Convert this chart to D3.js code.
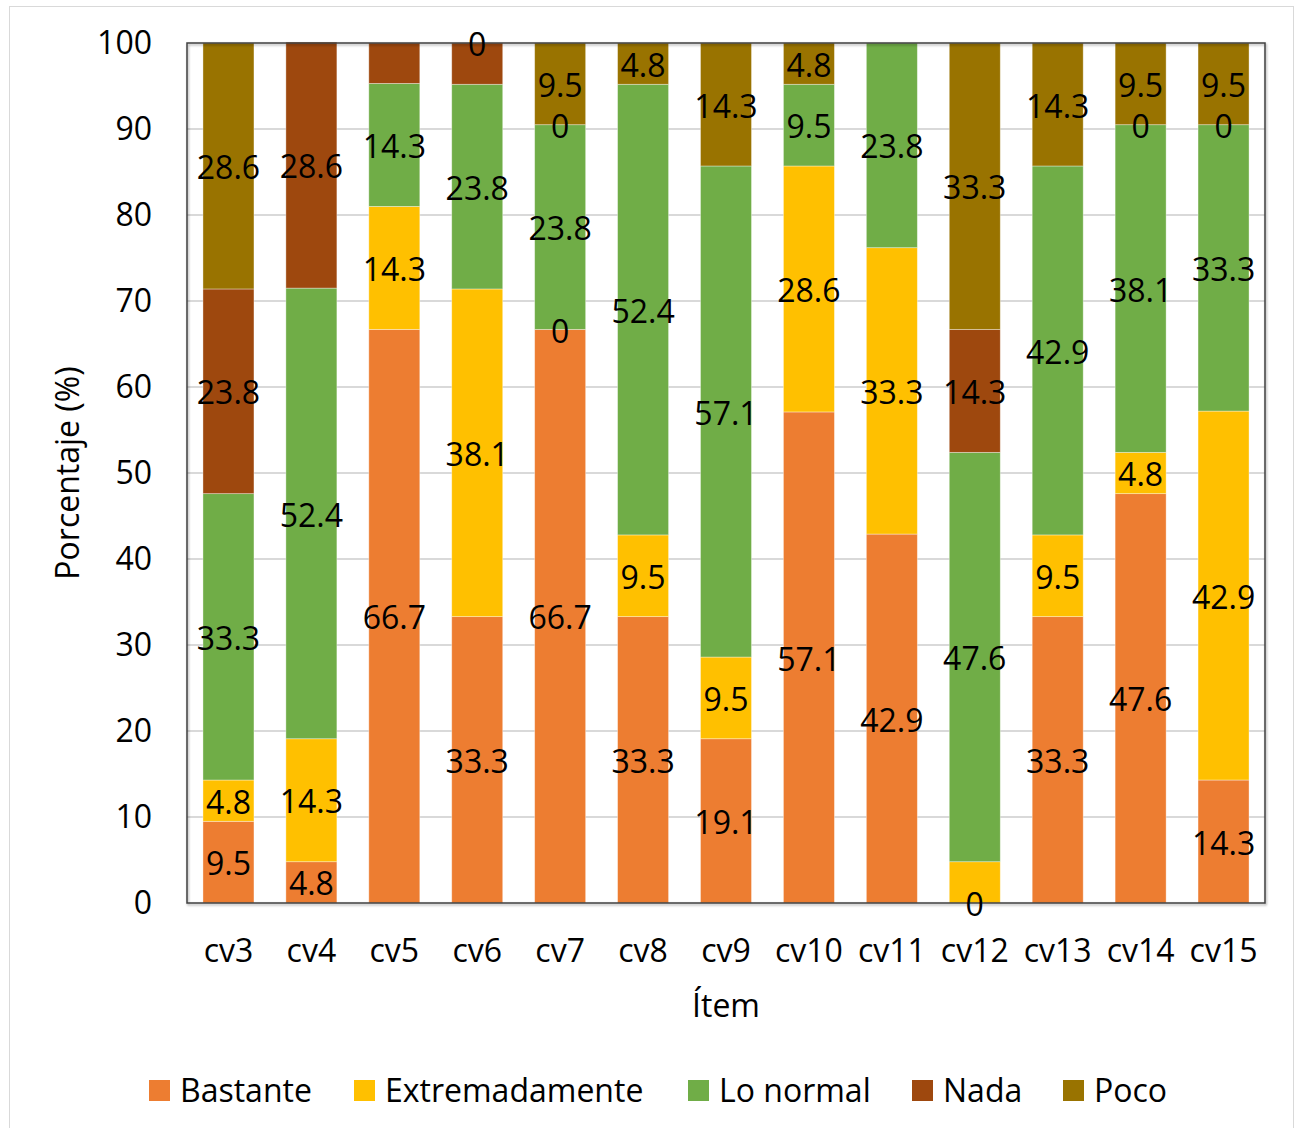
<!DOCTYPE html>
<html>
<head>
<meta charset="utf-8">
<script src="https://cdn.jsdelivr.net/npm/d3@7"></script>
<style>
  html, body { margin: 0; padding: 0; background: #fff; }
  svg text { font-family: "Open Sans", sans-serif; fill: #000; }
</style>
</head>
<body>
<svg id="chart" width="1298" height="1128"></svg>
<script>
// Items on the x axis
const categories = ["cv3","cv4","cv5","cv6","cv7","cv8","cv9","cv10","cv11","cv12","cv13","cv14","cv15"];

// Response levels, stacked bottom to top
const seriesNames = ["Bastante","Extremadamente","Lo normal","Nada","Poco"];
const seriesColors = ["#ED7D31","#FFC000","#70AD47","#9E480E","#997300"];

// Percentages per item (null = no segment, no label)
const bastante       = [9.5, 4.8, 66.7, 33.3, 66.7, 33.3, 19.1, 57.1, 42.9, 0,    33.3, 47.6, 14.3];
const extremadamente = [4.8, 14.3, 14.3, 38.1, 0,    9.5,  9.5,  28.6, 33.3, 4.8,  9.5,  4.8,  42.9];
const loNormal       = [33.3, 52.4, 14.3, 23.8, 23.8, 52.4, 57.1, 9.5,  23.8, 47.6, 42.9, 38.1, 33.3];
const nada           = [23.8, 28.6, 4.7,  4.8,  0,    null, null, null, null, 14.3, null, 0,    0];
const poco           = [28.6, null, null, 0,    9.5,  4.8,  14.3, 4.8,  null, 33.3, 14.3, 9.5,  9.5];

// Segments drawn without a data label
const unlabeled = [["cv5","Nada"],["cv6","Nada"],["cv12","Extremadamente"]];

const yTicks = [0,10,20,30,40,50,60,70,80,90,100];
const yTitle = "Porcentaje (%)";
const xTitle = "Ítem";

const seriesValues = [bastante, extremadamente, loNormal, nada, poco];
const rows = categories.map((c, i) => {
  const r = { item: c };
  seriesNames.forEach((s, k) => { r[s] = seriesValues[k][i] == null ? 0 : seriesValues[k][i]; });
  return r;
});

const svg = d3.select("#chart");
const m = { left: 187, right: 1265, top: 43, bottom: 903 };

// Outer chart frame
svg.append("rect").attr("x", 9.5).attr("y", 6.5).attr("width", 1284).attr("height", 1130)
  .attr("fill", "#fff").attr("stroke", "#d9d9d9").attr("stroke-width", 1);

const x = d3.scaleBand().domain(categories).range([m.left, m.right]).paddingInner(0.385).paddingOuter(0.1925);
const y = d3.scaleLinear().domain([0, 100]).range([m.bottom, m.top]);
const color = d3.scaleOrdinal().domain(seriesNames).range(seriesColors);

// Gridlines
svg.append("g").selectAll("line").data(yTicks.filter(t => t > 0 && t < 100)).join("line")
  .attr("x1", m.left).attr("x2", m.right)
  .attr("y1", d => y(d)).attr("y2", d => y(d))
  .attr("stroke", "#d9d9d9").attr("stroke-width", 2);

// Stacked bars
const stack = d3.stack().keys(seriesNames)(rows);
const layers = svg.append("g").selectAll("g").data(stack).join("g")
  .attr("fill", d => color(d.key));
layers.selectAll("rect").data(d => d.map(p => ({ key: d.key, p }))).join("rect")
  .attr("x", d => x(d.p.data.item))
  .attr("width", x.bandwidth())
  .attr("y", d => y(d.p[1]))
  .attr("height", d => y(d.p[0]) - y(d.p[1]))
  .attr("stroke", "rgba(255,255,255,0.45)").attr("stroke-width", 0.8);

// Plot area frame with a soft shadow
const defs = svg.append("defs");
const f = defs.append("filter").attr("id", "shadow").attr("x", "-5%").attr("y", "-5%").attr("width", "110%").attr("height", "110%");
f.append("feDropShadow").attr("dx", 1).attr("dy", 1.5).attr("stdDeviation", 1.2).attr("flood-color", "#000").attr("flood-opacity", 0.35);
svg.append("rect").attr("x", m.left).attr("y", m.top)
  .attr("width", m.right - m.left).attr("height", m.bottom - m.top)
  .attr("fill", "none").attr("stroke", "#404040").attr("stroke-width", 1.5)
  .attr("filter", "url(#shadow)");

// Data labels at segment centres
const isHidden = (item, key) => unlabeled.some(u => u[0] === item && u[1] === key);
const labels = [];
stack.forEach((layer, k) => {
  layer.forEach((p, i) => {
    const v = seriesValues[k][i];
    if (v == null || isHidden(p.data.item, layer.key)) return;
    labels.push({ x: x(p.data.item) + x.bandwidth() / 2, y: y((p[0] + p[1]) / 2), text: d3.format(".1~f")(v) });
  });
});
svg.append("g").selectAll("text").data(labels).join("text")
  .attr("x", d => d.x).attr("y", d => d.y)
  .attr("text-anchor", "middle").attr("dy", "0.41em")
  .attr("font-size", 32)
  .text(d => d.text);

// Y axis
const yAxis = d3.axisLeft(y).tickValues(yTicks).tickSize(0).tickPadding(35);
const gy = svg.append("g").attr("transform", `translate(${m.left},0)`).call(yAxis);
gy.select(".domain").remove();
gy.selectAll("text").attr("font-size", 32).attr("font-family", "Open Sans, sans-serif").attr("fill", "#000");

// X axis
const xAxis = d3.axisBottom(x).tickSize(0).tickPadding(36);
const gx = svg.append("g").attr("transform", `translate(0,${m.bottom})`).call(xAxis);
gx.select(".domain").remove();
gx.selectAll("text").attr("font-size", 32).attr("font-family", "Open Sans, sans-serif").attr("fill", "#000");

// Axis titles
svg.append("text").attr("transform", `translate(67,473) rotate(-90)`)
  .attr("text-anchor", "middle").attr("dy", "0.36em").attr("font-size", 32).text(yTitle);
svg.append("text").attr("x", 726).attr("y", 1017)
  .attr("text-anchor", "middle").attr("font-size", 32).text(xTitle);

// Legend
const legendX = [149, 354, 688, 912, 1063];
const legend = svg.append("g").selectAll("g").data(seriesNames).join("g")
  .attr("transform", (d, i) => `translate(${legendX[i]},1080)`);
legend.append("rect").attr("width", 21).attr("height", 21).attr("fill", d => color(d));
legend.append("text").attr("x", 31).attr("y", 10.5).attr("dy", "0.36em")
  .attr("font-size", 32).text(d => d);
</script>
</body>
</html>
